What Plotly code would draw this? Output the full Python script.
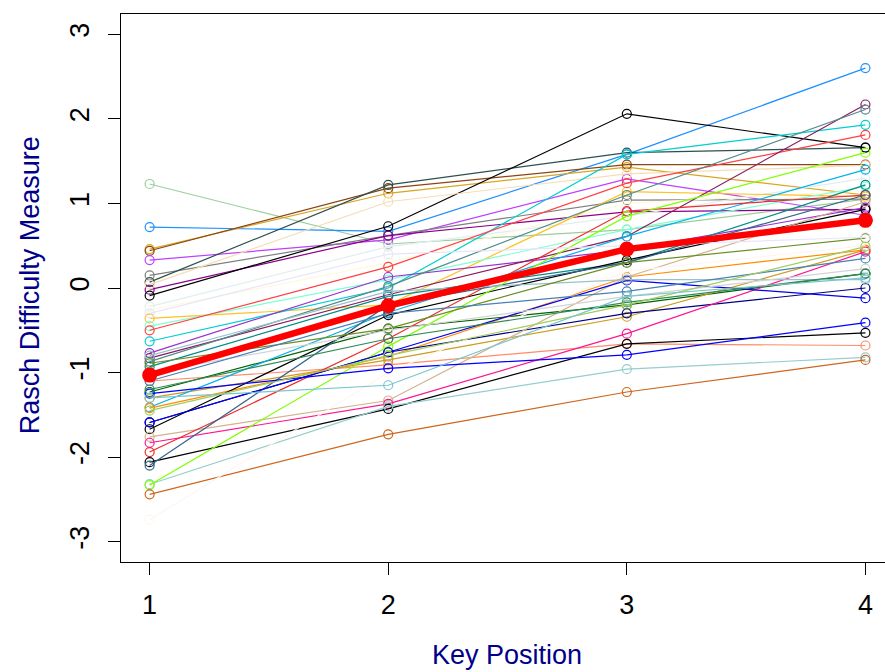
import plotly.graph_objects as go

key_positions = [1, 2, 3, 4]

# Rasch difficulty measure per item at key positions 1..4
measures = [
    [1.23, 0.52, 0.69, 1.05],
    [0.72, 0.67, 1.58, 2.60],
    [0.46, 1.12, 1.43, 1.10],
    [0.44, 1.18, 1.46, 1.46],
    [0.33, 0.57, 1.29, 0.86],
    [0.15, 0.62, 1.04, 1.05],
    [0.07, 1.22, 1.60, 1.66],
    [-0.02, 0.62, 0.90, 0.93],
    [-0.09, 0.73, 2.06, 1.66],
    [0.04, 1.02, 1.35, 1.45],
    [-0.22, 0.49, 0.85, 1.30],
    [-0.26, 0.30, 1.00, 1.15],
    [-0.36, -0.20, 1.14, 1.08],
    [-0.45, 0.10, 0.69, 1.20],
    [-0.63, 0.00, 1.58, 1.93],
    [-0.50, 0.25, 1.24, 1.81],
    [-0.77, 0.13, 0.45, 0.95],
    [-0.83, -0.08, 0.61, 2.17],
    [-0.87, 0.02, 1.10, 2.11],
    [-0.93, -0.10, 0.30, 1.22],
    [-1.10, -0.91, -0.66, -0.68],
    [-1.23, -0.48, -0.20, 0.17],
    [-1.30, -0.85, -0.34, 0.45],
    [-1.41, -0.29, 0.61, 1.40],
    [-1.42, -0.81, 0.13, 0.45],
    [-1.59, -0.76, -0.30, 0.00],
    [-1.67, -0.32, 0.33, 0.93],
    [-1.76, -1.33, 0.13, 1.02],
    [-1.83, -1.37, -0.54, 0.43],
    [-1.94, -0.60, 0.91, 1.10],
    [-2.06, -1.43, -0.66, -0.53],
    [-2.10, -0.20, 0.30, 1.10],
    [-2.32, -1.40, -0.96, -0.82],
    [-2.33, -0.69, 0.85, 1.60],
    [-2.44, -1.73, -1.23, -0.85],
    [-2.74, -1.00, 0.20, 0.50],
    [-1.25, -0.95, -0.79, -0.41],
    [-1.59, -0.76, 0.09, -0.12],
    [-0.80, -0.04, 0.10, 0.10],
    [-0.89, -0.48, 0.30, 0.59],
    [-1.00, -0.50, -0.10, 0.23],
    [-1.20, -0.60, -0.17, 0.17],
    [-1.10, -0.30, -0.04, 0.35],
    [-1.45, -0.80, -0.20, 0.49],
    [-1.30, -1.15, -0.10, 0.12],
    [-0.30, 0.40, 0.50, 0.60],
]

line_colors = [
    "#9BCD9B", "#1E90FF", "#DAA520", "#8B4513", "#BF3EFF", "#7F7F7F",
    "#2F4F4F", "#8B008B", "#000000", "#F5DEB3", "#E0EEEE", "#FFF8DC",
    "#FFC125", "#7FFFD4", "#00CED1", "#FF4040", "#9A32CD", "#8B1C62",
    "#528B8B", "#008B8B", "#FF8C69", "#006400", "#CD9B1D", "#00B2EE",
    "#FF8C00", "#000080", "#000000", "#D2B48C", "#FF1493", "#EE2C2C",
    "#000000", "#36648B", "#96CDCD", "#7FFF00", "#CD661D", "#FFF5EE",
    "#0000FF", "#0000EE", "#9AC0CD", "#6B8E23", "#D3D3D3", "#2E8B57",
    "#4682B4", "#A2CD5A", "#7AC5CD", "#E6E6FA",
]

mean_measure = [-1.03, -0.21, 0.46, 0.80]

x_ticks = [1, 2, 3, 4]
y_ticks = [-3, -2, -1, 0, 1, 2, 3]

fig = go.Figure()
for vals, col in zip(measures, line_colors):
    fig.add_trace(go.Scatter(
        x=key_positions, y=vals, mode="lines+markers",
        line=dict(color=col, width=1.2),
        marker=dict(symbol="circle-open", size=9, color=col, line=dict(width=1.2, color=col)),
        showlegend=False, hoverinfo="skip"))

fig.add_trace(go.Scatter(
    x=key_positions, y=mean_measure, mode="lines+markers",
    line=dict(color="#FF0000", width=6.5),
    marker=dict(symbol="circle", size=15, color="#FF0000"),
    showlegend=False, hoverinfo="skip"))

font = "Liberation Sans, Arial, sans-serif"
fig.update_layout(
    width=885, height=672,
    margin=dict(l=121, r=0, t=14, b=110),
    paper_bgcolor="white", plot_bgcolor="white",
    font=dict(family=font, size=27, color="black"),
    xaxis=dict(range=[0.88, 4.082], tickvals=x_ticks, ticktext=[str(v) for v in x_ticks],
               showgrid=False, zeroline=False, showline=True, mirror=True,
               linecolor="black", linewidth=1, ticks="outside", ticklen=12,
               tickwidth=1, tickcolor="black", ticklabelstandoff=7,
               tickfont=dict(size=27, family=font, color="black")),
    yaxis=dict(range=[-3.24, 3.24], tickvals=y_ticks, ticktext=[str(v) for v in y_ticks],
               showgrid=False, zeroline=False, showline=True, mirror=False,
               linecolor="black", linewidth=1, ticks="outside", ticklen=12,
               tickwidth=1, tickcolor="black", tickangle=-90, ticklabelstandoff=8,
               tickfont=dict(size=27, family=font, color="black")),
    annotations=[
        dict(text="Key Position", xref="paper", yref="paper", x=0.505, y=-0.170,
             xanchor="center", yanchor="middle", showarrow=False,
             font=dict(size=27, family=font, color="#00008B")),
        dict(text="Rasch Difficulty Measure", xref="paper", yref="paper", x=-0.119, y=0.505,
             xanchor="center", yanchor="middle", textangle=-90, showarrow=False,
             font=dict(size=27, family=font, color="#00008B")),
    ],
)

fig.write_html("out.html")
